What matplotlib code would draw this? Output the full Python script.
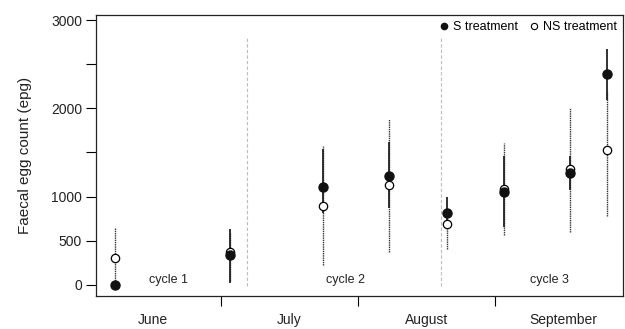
import matplotlib
matplotlib.use("Agg")
import matplotlib.pyplot as plt
import matplotlib.lines as mlines
import numpy as np

plt.rcParams['font.family'] = ['Liberation Sans', 'DejaVu Sans']

# position des prélèvements (en mois depuis le début juin)
x_pos = [0.224, 1.066, 1.741, 2.223, 2.646, 3.066, 3.547, 3.814]

s_mean = [0, 340, 1113, 1238, 812, 1053, 1265, 2386]
s_low = [0, 20, 815, 868, 720, 660, 1075, 2095]
s_high = [0, 634, 1537, 1623, 1000, 1460, 1460, 2672]

ns_mean = [310, 370, 898, 1132, 690, 1083, 1310, 1529]
ns_low = [0, 50, 226, 377, 404, 566, 604, 781]
ns_high = [642, 600, 1578, 1880, 800, 1608, 2000, 2200]

months = ["June", "July", "August", "September"]
month_centres = [0.5, 1.5, 2.5, 3.5]
month_bounds = [1, 2, 3]

cycle_sep = [1.192, 2.606]
cycles = ["cycle 1", "cycle 2", "cycle 3"]
cycle_x = [0.62, 1.905, 3.40]

y_ticks = [0, 500, 1000, 1500, 2000, 2500, 3000]
y_labels = ["0", "500", "1000", "", "2000", "", "3000"]

fig = plt.figure(figsize=(6.25, 3.29), dpi=100)
ax = fig.add_axes([0.1536, 0.1003, 0.8432, 0.8541])

for xs in cycle_sep:
    ax.vlines(xs, -10, 2800, colors='#bbbbbb', linestyles=(0, (3, 2)), linewidth=0.8)

for i in range(len(x_pos)):
    ax.vlines(x_pos[i], ns_low[i], ns_high[i], colors='#333333', linestyles=(0, (1, 0.6)), linewidth=1.0)
    ax.vlines(x_pos[i], s_low[i], s_high[i], colors='#222222', linewidth=1.3)

ax.plot(x_pos, ns_mean, 'o', markersize=6, markerfacecolor='white', markeredgecolor='black', markeredgewidth=0.9, linestyle='None')
ax.plot(x_pos, s_mean, 'o', markersize=6.5, color='#111111', linestyle='None')

for c, cx in zip(cycles, cycle_x):
    ax.text(cx, 57, c, ha='center', va='center', fontsize=9, color='#222222')

ax.set_xlim(0.0876, 3.934)
ax.set_ylim(-125, 3057)

ax.set_yticks(y_ticks)
ax.set_yticklabels(y_labels, fontsize=10, color='#222222')
ax.tick_params(axis='y', length=7, width=0.8, pad=3)

ax.set_xticks(month_bounds)
ax.set_xticklabels([])
ax.set_xticks(month_centres, minor=True)
ax.set_xticklabels(months, minor=True, fontsize=10, color='#222222')
ax.tick_params(axis='x', which='major', length=7, width=0.8)
ax.tick_params(axis='x', which='minor', length=0, pad=12)

ax.set_ylabel("Faecal egg count (epg)", fontsize=11, color='#222222', labelpad=14)

for sp in ax.spines.values():
    sp.set_linewidth(0.9)
    sp.set_color('#222222')

leg1 = mlines.Line2D([], [], color='#111111', marker='o', markersize=4.5, linestyle='None', label='S treatment')
leg2 = mlines.Line2D([], [], color='black', marker='o', markersize=4.5, markerfacecolor='white', markeredgewidth=0.8, linestyle='None', label='NS treatment')
ax.legend(handles=[leg1, leg2], loc='upper right', bbox_to_anchor=(1.005, 1.01), ncol=2, frameon=False,
          fontsize=9, handletextpad=0.2, columnspacing=0.8, borderaxespad=0.3, handlelength=1.0)

fig.savefig("out.png")
